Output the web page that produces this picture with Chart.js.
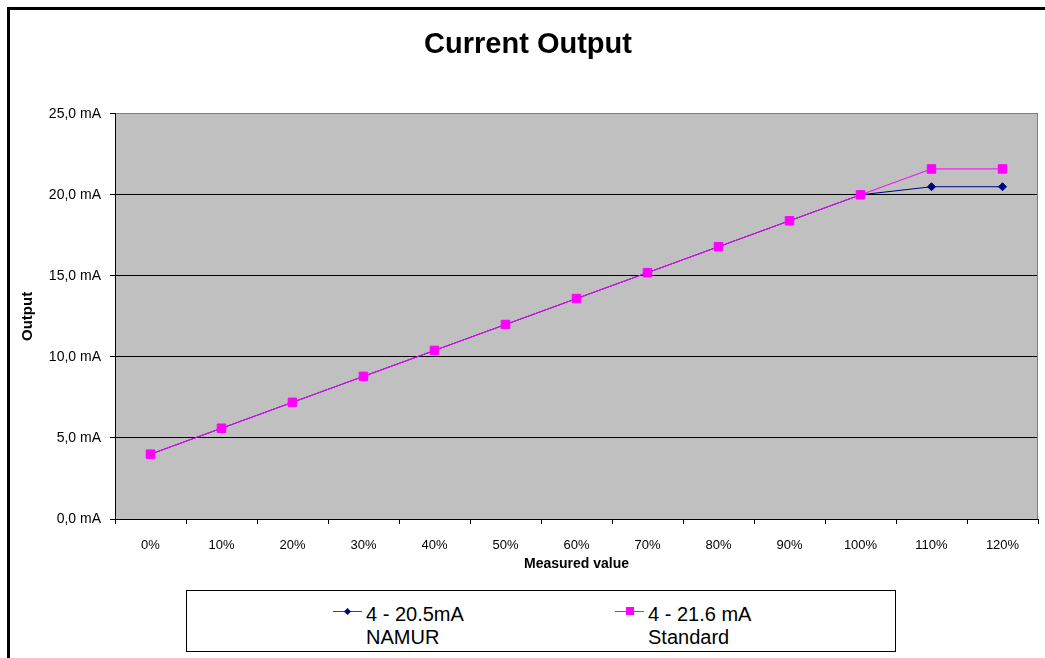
<!DOCTYPE html>
<html>
<head>
<meta charset="utf-8">
<title>Current Output</title>
<script src="https://cdn.jsdelivr.net/npm/chart.js@4/dist/chart.umd.min.js"></script>
<style>
  html, body { margin: 0; padding: 0; background: #fff; overflow: hidden; }
  body { width: 1045px; height: 658px; position: relative; font-family: "Liberation Sans", Arial, sans-serif; }
  #frame { position: absolute; left: 7px; top: 7px; width: 1100px; height: 700px; border: 3px solid #000; box-sizing: border-box; }
  #wrap { position: absolute; left: 0; top: 0; width: 1045px; height: 658px; }
  #legend { position: absolute; left: 186px; top: 590px; width: 710px; height: 62px; border: 1px solid #000; box-sizing: border-box; background: #fff; }
  .item { position: absolute; top: 12px; font-size: 20px; line-height: 23px; color: #000; }
  .item .sym { position: absolute; top: 8px; width: 29px; height: 1px; }
  .item .mk { position: absolute; }
  .item .txt { padding-left: 33px; white-space: nowrap; }
</style>
</head>
<body>
<div id="frame"></div>
<div id="wrap"><canvas id="chart" width="1045" height="658"></canvas></div>
<div id="legend"></div>
<script>
  const categories = ["0%", "10%", "20%", "30%", "40%", "50%", "60%", "70%", "80%", "90%", "100%", "110%", "120%"];
  const namurValues = [4.0, 5.6, 7.2, 8.8, 10.4, 12.0, 13.6, 15.2, 16.8, 18.4, 20.0, 20.5, 20.5];
  const standardValues = [4.0, 5.6, 7.2, 8.8, 10.4, 12.0, 13.6, 15.2, 16.8, 18.4, 20.0, 21.6, 21.6];
  const yTicks = [0, 5, 10, 15, 20, 25];

  const FONT = "'Liberation Sans', Arial, sans-serif";

  // grey plot area + grey right border, like the old spreadsheet chart
  const plotArea = {
    id: "plotArea",
    beforeDraw(chart) {
      const { ctx, chartArea: a } = chart;
      ctx.save();
      ctx.fillStyle = "#c0c0c0";
      ctx.fillRect(a.left, a.top, a.right - a.left, a.bottom - a.top);
      ctx.restore();
    },
    beforeDatasetsDraw(chart) {
      const { ctx, chartArea: a } = chart;
      ctx.save();
      ctx.strokeStyle = "#808080";
      ctx.lineWidth = 1;
      ctx.beginPath();
      ctx.moveTo(a.right - 0.5, a.top);
      ctx.lineTo(a.right - 0.5, a.bottom);
      ctx.stroke();
      ctx.restore();
    }
  };

  const datasets = [
    {
      label: "4 - 20.5mA NAMUR",
      data: namurValues,
      borderColor: "#000080",
      backgroundColor: "#000080",
      borderWidth: 1,
      pointStyle: "rectRot",
      pointRadius: 4,
      order: 1
    },
    {
      label: "4 - 21.6 mA Standard",
      data: standardValues,
      borderColor: "#ff00ff",
      backgroundColor: "#ff00ff",
      borderWidth: 1,
      pointStyle: "rect",
      pointRadius: 6,
      order: 0
    }
  ];

  new Chart(document.getElementById("chart"), {
    type: "line",
    data: { labels: categories, datasets },
    plugins: [plotArea],
    options: {
      responsive: false,
      animation: false,
      layout: { padding: { left: 16, right: 5, top: 0, bottom: 79 } },
      plugins: {
        legend: { display: false },
        tooltip: { enabled: false },
        title: {
          display: true,
          text: "Current Output",
          color: "#000",
          font: { family: FONT, size: 29, weight: "bold" },
          padding: { top: 28, bottom: 51 }
        }
      },
      elements: { line: { tension: 0 } },
      scales: {
        x: {
          offset: true,
          afterFit: (s) => { s.height = 60; },
          border: { color: "#000", width: 1 },
          grid: { offset: true, drawOnChartArea: false, drawTicks: true, tickLength: 5, color: "#000" },
          ticks: { color: "#000", padding: 14, font: { family: FONT, size: 13 } },
          title: { display: true, text: "Measured value", color: "#000", padding: { top: 0, bottom: 6 }, font: { family: FONT, size: 14, weight: "bold" } }
        },
        y: {
          min: 0,
          max: 25,
          afterFit: (s) => { s.width = 99; },
          afterBuildTicks: (s) => { s.ticks = yTicks.map((v) => ({ value: v })); },
          border: { color: "#000", width: 1 },
          grid: {
            color: (c) => (c.tick && c.tick.value === 25 ? "#808080" : "#000"),
            tickColor: "#000",
            drawTicks: true,
            tickLength: 5
          },
          ticks: {
            color: "#000",
            padding: 9,
            font: { family: FONT, size: 14 },
            callback: (v) => v.toFixed(1).replace(".", ",") + " mA"
          },
          title: { display: true, text: "Output", color: "#000", padding: { top: 3, bottom: 0 }, font: { family: FONT, size: 15, weight: "bold" } }
        }
      }
    }
  });

  // legend: two entries, each with a two-line label
  const legendItems = [
    { lines: ["4 - 20.5mA", "NAMUR"], color: "#3c3ca0", markColor: "#000080", marker: "diamond", left: 146 },
    { lines: ["4 - 21.6 mA", "Standard"], color: "#ff00ff", markColor: "#ff00ff", marker: "square", left: 428 }
  ];
  const legend = document.getElementById("legend");
  legendItems.forEach((it) => {
    const el = document.createElement("div");
    el.className = "item";
    el.style.left = it.left + "px";
    const sym = document.createElement("div");
    sym.className = "sym";
    sym.style.background = it.color;
    el.appendChild(sym);
    const mk = document.createElement("div");
    mk.className = "mk";
    mk.style.background = it.markColor;
    if (it.marker === "diamond") {
      mk.style.width = "5px"; mk.style.height = "5px";
      mk.style.left = "12px"; mk.style.top = "6px";
      mk.style.transform = "rotate(45deg)";
    } else {
      mk.style.width = "8px"; mk.style.height = "8px";
      mk.style.left = "11px"; mk.style.top = "4px";
    }
    el.appendChild(mk);
    const txt = document.createElement("div");
    txt.className = "txt";
    txt.innerHTML = it.lines.join("<br>");
    el.appendChild(txt);
    legend.appendChild(el);
  });
</script>
</body>
</html>
